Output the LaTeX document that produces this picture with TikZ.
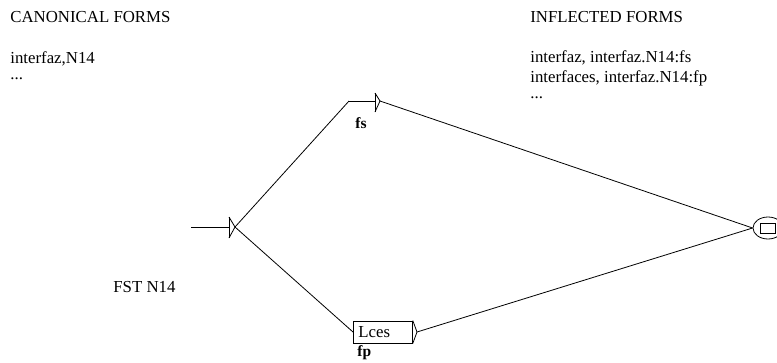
\documentclass[tikz,border=0pt]{standalone}
\usepackage{fontspec}
\setmainfont{Liberation Serif}
\usetikzlibrary{shapes.geometric}
\begin{document}
\begin{tikzpicture}[x=1pt,y=-1pt,line width=0.8pt,
  txt/.style={anchor=base west,inner sep=0pt,font=\fontsize{16.8}{19}\selectfont},
  lbl/.style={anchor=base west,inner sep=0pt,font=\fontsize{15.5}{17}\selectfont\bfseries}]
\useasboundingbox (0,0) rectangle (777,362);
\clip (0,0) rectangle (777,362);
% texts
\node[txt] (canon) at (10,22.5) {CANONICAL FORMS};
\node[txt] (canon1) at (10,63) {interfaz,N14};
\node[txt] (canon2) at (10,79) {...};
\node[txt] (infl) at (530,22.5) {INFLECTED FORMS};
\node[txt] (infl1) at (530,62) {interfaz, interfaz.N14:fs};
\node[txt] (infl2) at (530,82) {interfaces, interfaz.N14:fp};
\node[txt] (infl3) at (530,98) {...};
\node[txt] (fstname) at (113,292) {FST N14};
% initial state
\coordinate (start) at (191,227);
\coordinate (i0) at (229,227);
\coordinate (i0tip) at (235,227);
\draw (start) -- (i0);
\draw (229,217) -- (229,238);
\draw (229,217) -- (i0tip) -- (229,238);
% fs (empty) box
\coordinate (fsin) at (349,101);
\coordinate (fsbar) at (375,101);
\coordinate (fsout) at (380,101);
\draw (fsin) -- (fsbar);
\draw (375,93) -- (375,112);
\draw (375,93) -- (fsout) -- (375,112);
\node[lbl] (fs) at (355,128) {fs};
% Lces box
\node[draw,rectangle,minimum width=59,minimum height=22,anchor=west,inner sep=0pt,
      text width=55,align=left,font=\fontsize{16.8}{19}\selectfont] (lces) at (353,332) {\hspace*{3pt}Lces};
\coordinate (lcesout) at (417,332);
\draw (lces.north east) -- (lcesout) -- (lces.south east);
\node[lbl] (fp) at (357,356) {fp};
% final state
\node[draw,ellipse,minimum width=30,minimum height=22,inner sep=0pt] (final) at (768,228) {};
\node[draw,rectangle,minimum width=15,minimum height=10,inner sep=0pt] (finalbox) at (767.5,228) {};
% transitions
\draw (i0tip) -- (fsin);
\draw (i0tip) -- (lces.west);
\draw (fsout) -- (final.west);
\draw (lcesout) -- (final.west);
\end{tikzpicture}
\end{document}
